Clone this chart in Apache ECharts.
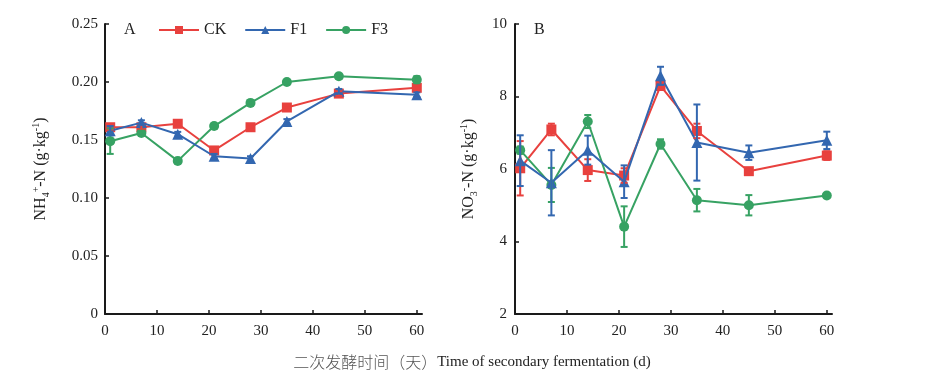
<!DOCTYPE html>
<html><head><meta charset="utf-8">
<script src="https://cdn.jsdelivr.net/npm/echarts@6/dist/echarts.min.js"></script>
<style>html,body{margin:0;padding:0;background:#fff}#c{width:936px;height:390px}</style>
</head><body><div id="c"></div>
<script>
// ---- data ----
const days = [1, 7, 14, 21, 28, 35, 45, 60];
const xTicks = [0, 10, 20, 30, 40, 50, 60];
const seriesNames = ['CK', 'F1', 'F3'];
// Panel A: NH4+-N
const nhCK = [0.161, 0.161, 0.164, 0.141, 0.161, 0.178, 0.190, 0.195];
const nhF1 = [0.158, 0.165, 0.155, 0.136, 0.134, 0.166, 0.192, 0.189];
const nhF3 = [0.149, 0.156, 0.132, 0.162, 0.182, 0.200, 0.205, 0.202];
const nhCKErr = [0.002, 0.002, 0.002, 0.002, 0.002, 0.002, 0.002, 0.002];
const nhF1Err = [0.004, 0.002, 0.002, 0.002, 0.002, 0.002, 0.002, 0.002];
const nhF3Err = [0.011, 0.002, 0.002, 0.002, 0.002, 0.001, 0.002, 0.003];
// Panel B: NO3--N
const noCK = [6.02, 7.09, 5.97, 5.82, 8.29, 7.05, 5.94, 6.37];
const noF1 = [6.23, 5.62, 6.52, 5.65, 8.57, 6.73, 6.45, 6.79];
const noF3 = [6.52, 5.56, 7.31, 4.41, 6.69, 5.14, 5.00, 5.27];
const noCKErr = [0.75, 0.16, 0.30, 0.20, 0.10, 0.20, 0.05, 0.12];
const noF1Err = [0.70, 0.90, 0.40, 0.45, 0.25, 1.05, 0.20, 0.24];
const noF3Err = [0.10, 0.47, 0.18, 0.56, 0.13, 0.31, 0.28, 0.05];

const colors = { CK: '#e8413e', F1: '#3367b0', F3: '#37a263' };
const symbols = { CK: 'rect', F1: 'triangle', F3: 'circle' };
const symSizes = { CK: 10, F1: 11, F3: 10 };
const serif = '"Liberation Serif", "DejaVu Serif", serif';
const axisColor = '#1a1a1a';

function lineSeries(name, vals, idx) {
  return {
    name: name, type: 'line', xAxisIndex: idx, yAxisIndex: idx,
    data: days.map((d, i) => [d, vals[i]]),
    symbol: symbols[name], symbolSize: symSizes[name],
    itemStyle: { color: colors[name] },
    lineStyle: { color: colors[name], width: 2 },
    z: name === 'F1' ? 4 : (name === 'F3' ? 3 : 2)
  };
}
function errSeries(name, vals, errs, idx) {
  const c = colors[name];
  return {
    name: name, type: 'custom', xAxisIndex: idx, yAxisIndex: idx,
    data: days.map((d, i) => [d, vals[i], errs[i]]),
    encode: { x: 0, y: 1 },
    z: 5, silent: true,
    renderItem: function (params, api) {
      const x = api.value(0), y = api.value(1), e = api.value(2);
      const top = api.coord([x, y + e]);
      const bot = api.coord([x, y - e]);
      const cw = 3.5;
      const st = { stroke: c, lineWidth: 2 };
      return { type: 'group', children: [
        { type: 'line', shape: { x1: top[0], y1: top[1], x2: bot[0], y2: bot[1] }, style: st },
        { type: 'line', shape: { x1: top[0] - cw, y1: top[1], x2: top[0] + cw, y2: top[1] }, style: st },
        { type: 'line', shape: { x1: bot[0] - cw, y1: bot[1], x2: bot[0] + cw, y2: bot[1] }, style: st }
      ]};
    }
  };
}

const richName = {
  n: { fontFamily: serif, fontSize: 16, color: '#222', lineHeight: 20 },
  sub: { fontFamily: serif, fontSize: 10, color: '#222', verticalAlign: 'bottom', lineHeight: 20 },
  sup: { fontFamily: serif, fontSize: 10, color: '#222', verticalAlign: 'top', lineHeight: 20 }
};

function xAxisCfg(idx) {
  return {
    type: 'value', gridIndex: idx, min: 0, max: 61, interval: 10,
    axisLine: { lineStyle: { color: axisColor, width: 2 } },
    axisTick: { inside: true, length: 4, customValues: xTicks, lineStyle: { color: axisColor, width: 1.5 } },
    axisLabel: { customValues: xTicks, fontFamily: serif, fontSize: 15, color: '#222', margin: 10 },
    splitLine: { show: false }
  };
}

const option = {
  animation: false,
  backgroundColor: '#fff',
  grid: [
    { left: 105, top: 24, width: 317, height: 290 },
    { left: 515, top: 24, width: 317, height: 290 }
  ],
  legend: {
    data: seriesNames, left: 158, top: 22, itemWidth: 40, itemHeight: 10, itemGap: 18,
    padding: 0,
    textStyle: { fontFamily: serif, fontSize: 16, color: '#222' }
  },
  xAxis: [xAxisCfg(0), xAxisCfg(1)],
  yAxis: [
    {
      type: 'value', gridIndex: 0, min: 0, max: 0.25, interval: 0.05,
      axisLine: { show: true, lineStyle: { color: axisColor, width: 2 } },
      axisTick: { show: true, inside: true, length: 4, lineStyle: { color: axisColor, width: 1.5 } },
      axisLabel: { fontFamily: serif, fontSize: 15, color: '#222', margin: 7,
        formatter: v => v === 0 ? '0' : v.toFixed(2) },
      splitLine: { show: false },
      name: '{n|NH}{sub|4}{sup|+}{n|-N (g·kg}{sup|-1}{n|)}',
      nameLocation: 'middle', nameRotate: 90, nameGap: 54,
      nameTextStyle: { rich: richName }
    },
    {
      type: 'value', gridIndex: 1, min: 2, max: 10, interval: 2,
      axisLine: { show: true, lineStyle: { color: axisColor, width: 2 } },
      axisTick: { show: true, inside: true, length: 4, lineStyle: { color: axisColor, width: 1.5 } },
      axisLabel: { fontFamily: serif, fontSize: 15, color: '#222', margin: 8 },
      splitLine: { show: false },
      name: '{n|NO}{sub|3}{sup|-}{n|-N (g·kg}{sup|-1}{n|)}',
      nameLocation: 'middle', nameRotate: 90, nameGap: 36,
      nameTextStyle: { rich: richName }
    }
  ],
  graphic: [
    { type: 'text', left: 124, top: 22, style: { text: 'A', font: '16px ' + serif, fill: '#222' } },
    { type: 'text', left: 534, top: 22, style: { text: 'B', font: '16px ' + serif, fill: '#222' } },
    { type: 'text', x: 472, y: 362, style: {
        text: '{zh|二次发酵时间（天）}{en|Time of secondary fermentation (d)}',
        align: 'center', verticalAlign: 'middle',
        rich: {
          zh: { fontFamily: '"Noto Sans CJK SC"', fontSize: 16, fill: '#555', fontWeight: 300 },
          en: { fontFamily: serif, fontSize: 15, fill: '#222' }
        }
      } }
  ],
  series: [
    lineSeries('CK', nhCK, 0), lineSeries('F3', nhF3, 0), lineSeries('F1', nhF1, 0),
    errSeries('CK', nhCK, nhCKErr, 0), errSeries('F3', nhF3, nhF3Err, 0), errSeries('F1', nhF1, nhF1Err, 0),
    lineSeries('CK', noCK, 1), lineSeries('F3', noF3, 1), lineSeries('F1', noF1, 1),
    errSeries('CK', noCK, noCKErr, 1), errSeries('F3', noF3, noF3Err, 1), errSeries('F1', noF1, noF1Err, 1)
  ]
};
const chart = echarts.init(document.getElementById('c'), null, { renderer: 'canvas' });
chart.setOption(option);
</script>
</body></html>
